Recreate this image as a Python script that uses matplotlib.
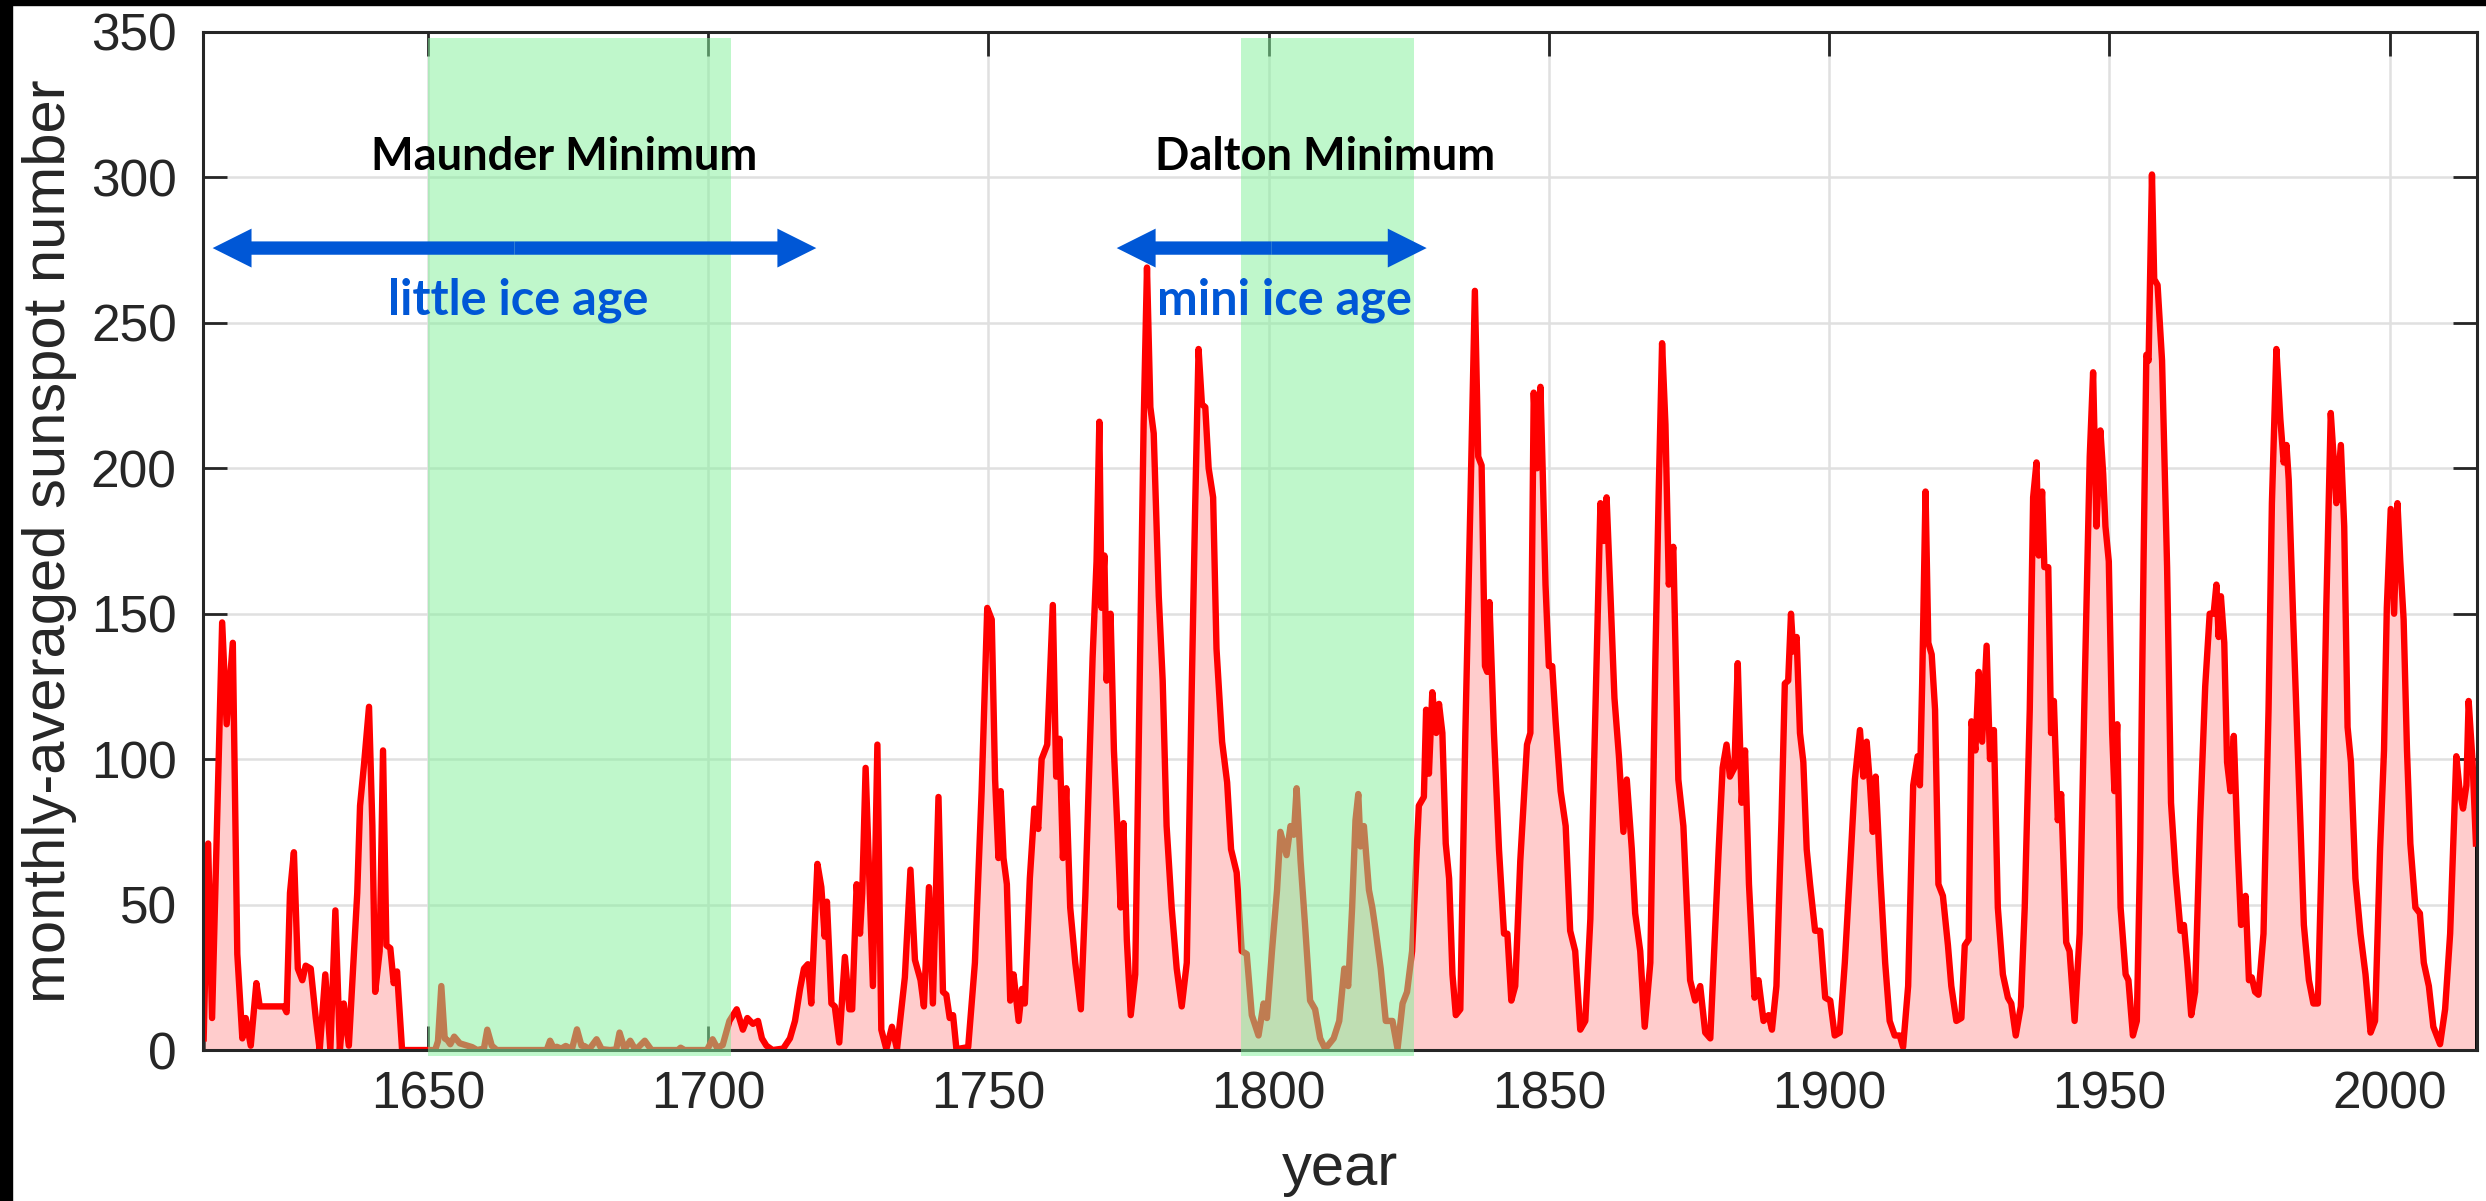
import matplotlib
matplotlib.use("Agg")
import matplotlib.pyplot as plt
from matplotlib.patches import Rectangle, FancyArrowPatch

plt.rcParams['font.family'] = ['Liberation Sans', 'DejaVu Sans']

# monthly-averaged sunspot number
years = [
    1610.0, 1610.8, 1611.5, 1613.3, 1614.1, 1615.2, 1616.0, 1616.9, 1617.5, 1618.4,
    1619.4, 1620.0, 1624.3, 1624.8, 1625.4, 1626.1, 1626.8, 1627.6, 1628.2, 1629.1,
    1630.0, 1630.7, 1631.7, 1632.6, 1633.5, 1634.3, 1635.0, 1635.9, 1637.4, 1637.9,
    1638.6, 1639.5, 1640.1, 1640.6, 1641.4, 1642.0, 1642.6, 1643.3, 1643.9, 1644.5,
    1645.4, 1651.3, 1651.8, 1652.4, 1653.0, 1653.5, 1654.0, 1654.7, 1655.7, 1656.7,
    1657.9, 1658.8, 1660.0, 1660.6, 1661.4, 1662.3, 1671.2, 1671.8, 1672.4, 1673.0,
    1673.8, 1674.6, 1675.7, 1676.6, 1677.4, 1677.9, 1678.8, 1680.1, 1681.0, 1682.5,
    1683.6, 1684.2, 1685.1, 1686.1, 1686.9, 1687.3, 1688.7, 1689.9, 1694.6, 1695.1,
    1695.8, 1699.8, 1700.8, 1701.6, 1702.6, 1703.8, 1705.1, 1706.2, 1707.0, 1708.0,
    1708.9, 1709.6, 1710.4, 1711.5, 1713.4, 1714.6, 1715.5, 1716.4, 1717.1, 1717.8,
    1718.4, 1719.5, 1720.2, 1720.8, 1721.2, 1722.0, 1722.6, 1723.4, 1724.4, 1725.2,
    1725.7, 1726.5, 1727.1, 1727.5, 1728.1, 1728.7, 1729.4, 1730.2, 1730.9, 1731.8,
    1732.8, 1733.7, 1735.1, 1736.1, 1736.9, 1737.9, 1738.5, 1739.4, 1740.1, 1741.1,
    1741.9, 1742.5, 1743.1, 1743.7, 1744.3, 1746.4, 1747.6, 1748.8, 1749.8, 1750.6,
    1751.2, 1751.8, 1752.2, 1752.7, 1753.3, 1753.9, 1754.5, 1755.4, 1756.0, 1756.5,
    1757.4, 1758.2, 1758.9, 1759.5, 1760.5, 1761.5, 1762.1, 1762.7, 1763.3, 1763.9,
    1764.6, 1765.5, 1766.5, 1767.3, 1768.6, 1769.3, 1769.8, 1770.2, 1770.7, 1771.1,
    1771.8, 1772.4, 1773.0, 1773.6, 1774.1, 1774.7, 1775.4, 1776.2, 1777.1, 1777.7,
    1778.3, 1778.9, 1779.5, 1780.4, 1781.1, 1781.8, 1782.7, 1783.6, 1784.5, 1785.4,
    1786.3, 1786.9, 1787.5, 1788.1, 1788.7, 1789.3, 1790.1, 1790.7, 1791.7, 1792.6,
    1793.3, 1794.3, 1795.2, 1796.1, 1797.0, 1798.2, 1799.1, 1799.7, 1800.6, 1801.5,
    1802.1, 1803.2, 1803.9, 1804.5, 1805.0, 1805.7, 1806.5, 1807.4, 1808.3, 1809.2,
    1810.1, 1811.6, 1812.6, 1813.5, 1814.2, 1814.9, 1815.5, 1816.0, 1816.4, 1817.0,
    1817.9, 1818.5, 1819.1, 1820.0, 1820.9, 1822.1, 1823.0, 1823.9, 1824.7, 1825.6,
    1826.8, 1827.7, 1828.1, 1828.6, 1829.2, 1829.9, 1830.4, 1831.0, 1831.6, 1832.2,
    1832.8, 1833.4, 1834.2, 1835.1, 1836.0, 1836.8, 1837.4, 1838.0, 1838.6, 1839.0,
    1839.4, 1840.2, 1841.1, 1842.0, 1842.6, 1843.3, 1844.0, 1844.9, 1846.1, 1846.7,
    1847.3, 1847.9, 1848.5, 1848.9, 1849.4, 1850.0, 1850.6, 1851.2, 1852.1, 1853.0,
    1853.8, 1854.7, 1855.6, 1856.5, 1857.4, 1858.3, 1859.2, 1859.8, 1860.3, 1861.0,
    1861.7, 1862.5, 1863.3, 1863.9, 1864.8, 1865.4, 1866.3, 1867.1, 1868.1, 1869.0,
    1869.6, 1870.2, 1870.8, 1871.4, 1872.2, 1873.1, 1874.0, 1875.2, 1876.1, 1877.0,
    1877.9, 1878.8, 1880.3, 1881.0, 1881.7, 1882.3, 1883.1, 1883.7, 1884.4, 1885.0,
    1885.7, 1886.2, 1886.7, 1887.4, 1888.3, 1889.2, 1889.8, 1890.6, 1891.5, 1892.1,
    1892.7, 1893.2, 1893.6, 1894.2, 1894.8, 1895.4, 1896.0, 1896.6, 1897.5, 1898.4,
    1899.3, 1900.2, 1901.0, 1901.9, 1902.8, 1903.7, 1904.6, 1905.5, 1906.1, 1906.7,
    1907.3, 1907.8, 1908.3, 1909.1, 1910.0, 1910.8, 1911.7, 1912.6, 1913.2, 1914.1,
    1915.0, 1915.8, 1916.2, 1916.6, 1917.2, 1917.7, 1918.3, 1918.9, 1919.5, 1920.3,
    1921.2, 1921.8, 1922.7, 1923.6, 1924.2, 1924.9, 1925.4, 1926.1, 1926.7, 1927.3,
    1928.1, 1928.7, 1929.4, 1930.1, 1931.0, 1931.9, 1932.5, 1933.3, 1934.2, 1934.9,
    1935.8, 1936.4, 1937.0, 1937.4, 1938.0, 1938.4, 1939.1, 1939.6, 1940.1, 1940.8,
    1941.4, 1942.3, 1942.9, 1943.8, 1944.7, 1945.6, 1946.5, 1947.1, 1947.7, 1948.4,
    1948.9, 1949.3, 1949.9, 1950.5, 1950.9, 1951.4, 1952.0, 1952.9, 1953.4, 1954.2,
    1954.9, 1955.5, 1956.1, 1956.6, 1957.0, 1957.6, 1958.0, 1958.6, 1959.4, 1960.3,
    1961.0, 1961.8, 1962.7, 1963.3, 1963.9, 1964.6, 1965.3, 1966.2, 1967.1, 1967.9,
    1968.6, 1969.1, 1969.5, 1969.9, 1970.5, 1971.0, 1971.6, 1972.2, 1972.9, 1973.5,
    1974.3, 1974.9, 1975.4, 1976.0, 1976.6, 1977.5, 1978.4, 1979.0, 1979.8, 1980.5,
    1981.1, 1981.6, 1982.0, 1982.8, 1983.5, 1984.1, 1984.7, 1985.6, 1986.4, 1987.2,
    1987.9, 1988.7, 1989.5, 1990.0, 1990.5, 1991.3, 1991.9, 1992.5, 1993.1, 1993.9,
    1994.8, 1995.7, 1996.6, 1997.4, 1998.3, 1999.0, 1999.5, 2000.2, 2000.8, 2001.4,
    2001.9, 2002.5, 2003.1, 2003.7, 2004.6, 2005.4, 2006.1, 2007.0, 2007.8, 2009.0,
    2009.9, 2010.8, 2011.9, 2012.5, 2013.1, 2013.7, 2014.1, 2014.8, 2015.4,
]
ssn = [
    4, 71, 11, 147, 112, 140, 33, 4, 11, 1.5,
    23, 15, 15, 13, 54, 68, 28, 24, 29, 28,
    11, 0, 26, 0, 48, 0, 16, 1.5, 54, 84,
    98, 118, 77, 20, 34, 103, 36, 35, 23, 27,
    0, 0, 3, 22, 4, 3.4, 2, 4.6, 2.3, 1.7,
    1, 0, 0.5, 7, 1.5, 0, 0, 3.2, 0.8, 1.1,
    0.5, 1.4, 0.3, 7.1, 1.5, 1.4, 0.3, 3.7, 0.3, 0,
    0.2, 6, 0.3, 3.2, 0.5, 0.5, 3.2, 0, 0, 0.8,
    0, 0, 3.7, 0.8, 1.7, 10, 14, 7, 11, 9,
    10, 4, 1.5, 0, 0.5, 4, 10, 21, 28, 29.5,
    16, 64, 56, 39, 51, 16, 15, 2.6, 32, 14,
    14, 57, 40, 54, 97, 62, 22, 105, 7, 0.3,
    8, 0.3, 25, 62, 31, 24, 15, 56, 16, 87,
    20, 19, 11, 12, 0.3, 1, 30, 89, 152, 148,
    93, 66, 89, 66, 57, 17, 26, 10, 21, 16,
    59, 83, 76, 100, 105, 153, 94, 107, 66, 90,
    49, 30, 14, 53, 135, 168, 216, 152, 170, 127,
    150, 103, 77, 49, 78, 38, 12, 26, 138, 215,
    269, 221, 212, 156, 127, 77, 49, 28, 15, 30,
    126, 187, 241, 222, 221, 200, 190, 138, 106, 92,
    69, 61, 34, 33, 12, 5, 16, 11, 34, 55,
    75, 67, 77, 74, 90, 65, 43, 17, 14, 4,
    0.4, 4, 10, 28, 22, 49, 79, 88, 70, 77,
    55, 49, 41, 28, 10, 10, 0.4, 16, 20, 34,
    84, 87, 117, 95, 123, 109, 119, 109, 71, 59,
    26, 12, 14, 109, 188, 261, 204, 201, 132, 130,
    154, 109, 69, 40, 40, 17, 22, 65, 105, 109,
    226, 200, 228, 199, 160, 132, 132, 113, 89, 77,
    41, 34, 7, 10, 45, 117, 188, 175, 190, 156,
    121, 101, 75, 93, 69, 47, 34, 8, 30, 134,
    192, 243, 215, 160, 173, 93, 77, 24, 17, 22,
    6, 4, 69, 97, 105, 94, 97, 133, 85, 103,
    57, 38, 18, 24, 10, 12, 7, 22, 79, 126,
    127, 150, 137, 142, 109, 99, 69, 57, 41, 41,
    18, 17, 5, 6, 30, 61, 93, 110, 94, 106,
    91, 75, 94, 61, 30, 10, 5, 5, 1, 22,
    91, 101, 91, 126, 192, 140, 136, 117, 57, 53,
    36, 22, 10, 11, 36, 38, 113, 103, 130, 106,
    139, 100, 110, 49, 26, 18, 16, 5, 15, 49,
    117, 190, 202, 170, 192, 166, 166, 109, 120, 79,
    88, 37, 34, 10, 40, 125, 204, 233, 180, 213,
    198, 180, 168, 109, 89, 112, 49, 26, 24, 5,
    10, 69, 168, 239, 237, 301, 265, 263, 237, 166,
    85, 61, 41, 43, 30, 12, 20, 79, 125, 150,
    150, 160, 142, 156, 140, 99, 89, 108, 69, 43,
    53, 24, 25, 20, 19, 40, 117, 188, 241, 217,
    202, 208, 196, 148, 109, 77, 43, 24, 16, 16,
    69, 152, 219, 204, 188, 208, 180, 111, 99, 59,
    40, 26, 6, 10, 69, 103, 152, 186, 150, 188,
    168, 148, 103, 71, 49, 47, 30, 22, 8, 2,
    14, 40, 101, 89, 83, 91, 120, 99, 71,
]

# shaded minima and annotations
minima_names = ['Maunder Minimum', 'Dalton Minimum']
minima_spans = [(1650, 1704), (1795, 1826)]
minima_label_x = [1674.3, 1810.0]
ice_names = ['little ice age', 'mini ice age']
ice_arrows = [(1611.6, 1719.3), (1772.9, 1828.2)]
ice_label_x = [1666.1, 1802.8]

xticks = [1650, 1700, 1750, 1800, 1850, 1900, 1950, 2000]
yticks = [0, 50, 100, 150, 200, 250, 300, 350]

fig = plt.figure(figsize=(24.86, 12.01), dpi=100)
ax = fig.add_axes([0.0817, 0.1257, 0.9147, 0.8477])

dark = '#262626'
blue = '#0057D6'

ax.fill_between(years, ssn, 0, facecolor=(1.0, 0.8, 0.8), edgecolor='black',
                linewidth=2.0, zorder=1)
ax.plot(years, ssn, color='red', lw=4.6, zorder=2, solid_joinstyle='round')

for x0, x1 in minima_spans:
    ax.axvspan(x0, x1, ymin=-0.006, ymax=0.994, color=(133/255, 240/255, 156/255),
               alpha=0.52, lw=0, zorder=3, clip_on=False)

ax.set_xlim(1609.9, 2015.6)
ax.set_ylim(0, 350)
ax.set_xticks(xticks)
ax.set_yticks(yticks)
ax.set_axisbelow(True)
ax.grid(True, color='#E0E0E0', lw=1.8)

ax.tick_params(axis='both', direction='in', length=17, width=2.0, color=dark,
               labelcolor=dark, labelsize=37, top=True, right=True)
ax.tick_params(axis='x', pad=15)
ax.tick_params(axis='y', pad=19)
for s in ax.spines.values():
    s.set_color(dark)
    s.set_linewidth(2.2)
    s.set_zorder(2.5)

ax.set_xlabel('year', fontsize=43, color=dark, labelpad=16)
ax.set_ylabel('monthly-averaged sunspot number', fontsize=43, color=dark, labelpad=10)

for name, lx in zip(minima_names, minima_label_x):
    ax.text(lx, 302.5, name, ha='center', va='baseline', fontsize=32.5,
            fontweight='bold', family=['Lato', 'DejaVu Sans'], color='black', zorder=6)

for name, lx, (a0, a1) in zip(ice_names, ice_label_x, ice_arrows):
    ax.text(lx, 253, name, ha='center', va='baseline', fontsize=35,
            fontweight='bold', family=['Lato', 'DejaVu Sans'], color=blue, zorder=6)
    mid = (a0 + a1) / 2
    for end in (a0, a1):
        arr = FancyArrowPatch((mid, 275.7), (end, 275.7),
                              arrowstyle='simple,head_length=28,head_width=28,tail_width=9.6',
                              mutation_scale=1, color=blue, lw=0, shrinkA=0, shrinkB=0,
                              zorder=6)
        ax.add_patch(arr)

# black frame strips at top and left edge of the picture
fig.patches.append(Rectangle((0, 1 - 5 / 1201), 1, 5 / 1201, transform=fig.transFigure,
                             color='black', zorder=10))
fig.patches.append(Rectangle((0, 0), 12 / 2486, 1, transform=fig.transFigure,
                             color='black', zorder=10))

fig.savefig('out.png', dpi=100)
